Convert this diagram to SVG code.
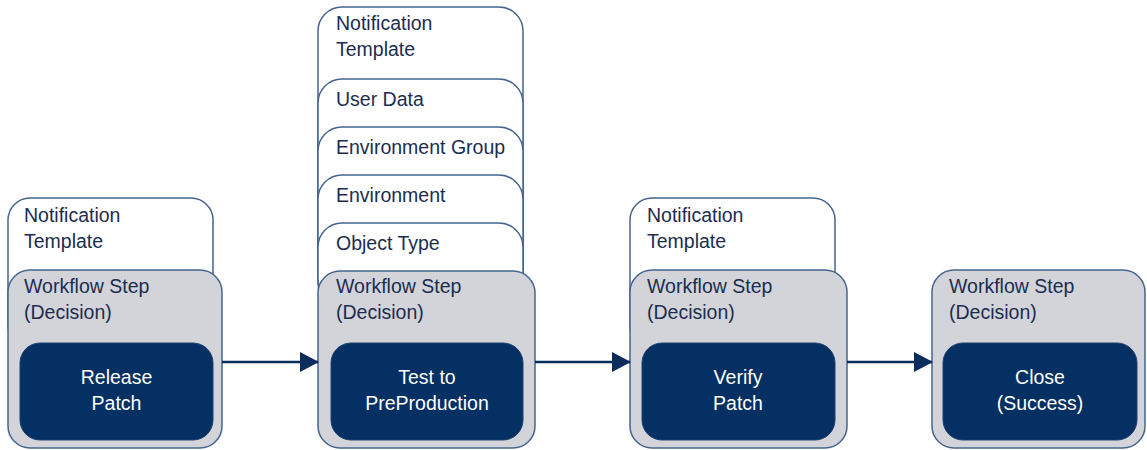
<svg xmlns="http://www.w3.org/2000/svg" width="1147" height="450" viewBox="0 0 1147 450">
<style>
.tab{fill:#ffffff;stroke:#46658f;stroke-width:1.5}
.step{fill:#d3d4d9;stroke:#46658f;stroke-width:1.5}
.inner{fill:#053063;stroke:#1f4170;stroke-width:1}
.lbl{font-family:"Liberation Sans",Arial,sans-serif;font-size:19.5px;fill:#1c2d4f}
.wl{font-family:"Liberation Sans",Arial,sans-serif;font-size:19.5px;fill:#ffffff;text-anchor:middle}
.conn{stroke:#0b2d5c;stroke-width:2.5;fill:none}
</style>
<defs>
<marker id="ah" markerWidth="19" markerHeight="20" refX="18" refY="10" orient="auto" markerUnits="userSpaceOnUse">
<polygon points="0,0 19,10 0,20" fill="#0b2d5c"/>
</marker>
</defs>
<g id="node1">
<rect class="tab" x="8" y="198" width="205" height="150" rx="22"/>
<text class="lbl" x="24" y="222">Notification</text>
<text class="lbl" x="24" y="248">Template</text>
<rect class="step" x="8" y="270" width="214" height="178" rx="22"/>
<text class="lbl" x="24" y="293">Workflow Step</text>
<text class="lbl" x="24" y="319">(Decision)</text>
<rect class="inner" x="20" y="343" width="193" height="97" rx="20"/>
<text class="wl" x="116.5" y="384">Release</text>
<text class="wl" x="116.5" y="410">Patch</text>
</g>
<g id="node2">
<rect class="tab" x="318" y="7" width="205" height="300" rx="24"/>
<text class="lbl" x="336" y="30">Notification</text>
<text class="lbl" x="336" y="56">Template</text>
<rect class="tab" x="318" y="79" width="205" height="200" rx="24"/>
<text class="lbl" x="336" y="106">User Data</text>
<rect class="tab" x="318" y="127" width="205" height="160" rx="24"/>
<text class="lbl" x="336" y="154">Environment Group</text>
<rect class="tab" x="318" y="175" width="205" height="120" rx="24"/>
<text class="lbl" x="336" y="202">Environment</text>
<rect class="tab" x="318" y="223" width="205" height="80" rx="24"/>
<text class="lbl" x="336" y="250">Object Type</text>
<rect class="step" x="318" y="271" width="217" height="177" rx="22"/>
<text class="lbl" x="336" y="293">Workflow Step</text>
<text class="lbl" x="336" y="319">(Decision)</text>
<rect class="inner" x="331" y="343" width="192" height="97" rx="20"/>
<text class="wl" x="427" y="384">Test to</text>
<text class="wl" x="427" y="410">PreProduction</text>
</g>
<g id="node3">
<rect class="tab" x="630" y="198" width="205" height="150" rx="22"/>
<text class="lbl" x="647" y="222">Notification</text>
<text class="lbl" x="647" y="248">Template</text>
<rect class="step" x="630" y="270" width="217" height="178" rx="22"/>
<text class="lbl" x="647" y="293">Workflow Step</text>
<text class="lbl" x="647" y="319">(Decision)</text>
<rect class="inner" x="642" y="343" width="193" height="97" rx="20"/>
<text class="wl" x="738" y="384">Verify</text>
<text class="wl" x="738" y="410">Patch</text>
</g>
<g id="node4">
<rect class="step" x="932" y="270" width="213" height="178" rx="22"/>
<text class="lbl" x="949" y="293">Workflow Step</text>
<text class="lbl" x="949" y="319">(Decision)</text>
<rect class="inner" x="943" y="343" width="194" height="97" rx="20"/>
<text class="wl" x="1040" y="384">Close</text>
<text class="wl" x="1040" y="410">(Success)</text>
</g>
<g id="connectors">
<line class="conn" x1="222" y1="362" x2="318" y2="362" marker-end="url(#ah)"/>
<line class="conn" x1="535" y1="362" x2="630" y2="362" marker-end="url(#ah)"/>
<line class="conn" x1="847" y1="362" x2="932" y2="362" marker-end="url(#ah)"/>
</g>
</svg>
